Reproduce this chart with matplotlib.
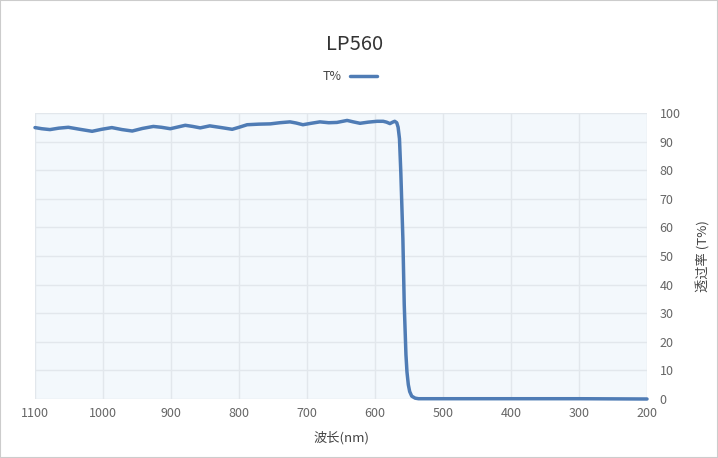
import matplotlib
matplotlib.use("Agg")
import matplotlib.pyplot as plt
from matplotlib.patches import Rectangle

plt.rcParams['font.family'] = ['Noto Sans CJK SC', 'DejaVu Sans']

title = "LP560"
series_name = "T%"
x_label = "波长(nm)"
y_label = "透过率 (T%)"

wavelength = [200, 300, 400, 500, 530, 536, 541, 546, 549, 551, 553, 554.5, 557, 559, 562, 564,
              566, 568, 571, 574, 578, 583, 588, 597, 610, 622, 632, 641, 656, 668,
              681, 694, 706, 716, 725, 740, 754, 771, 788, 800, 810, 826, 843, 857,
              868, 879, 890, 901, 914, 926, 942, 957, 972, 987, 1002, 1016, 1034,
              1051, 1065, 1078, 1090, 1100]
transmittance = [0.0, 0.1, 0.1, 0.1, 0.1, 0.1, 0.3, 1.0, 2.6, 5.0, 9.5, 15.5, 33.0, 56.0, 79.0, 91.0,
                 95.0, 96.6, 97.1, 96.8, 96.3, 96.8, 97.1, 97.1, 96.8, 96.4, 96.9, 97.4,
                 96.7, 96.6, 96.9, 96.4, 95.9, 96.5, 96.9, 96.6, 96.2, 96.1, 95.9, 95.0,
                 94.3, 94.9, 95.5, 94.8, 95.3, 95.7, 95.1, 94.5, 95.0, 95.3, 94.6, 93.7,
                 94.2, 94.9, 94.3, 93.6, 94.3, 95.0, 94.7, 94.2, 94.5, 94.9]

x_ticks = [1100, 1000, 900, 800, 700, 600, 500, 400, 300, 200]
y_ticks = [0, 10, 20, 30, 40, 50, 60, 70, 80, 90, 100]

fig = plt.figure(figsize=(7.18, 4.58), dpi=100)
ax = fig.add_axes([35/718, 1-399/458, (647-35)/718, (399-113)/458])
ax.set_facecolor("#f3f8fc")

ax.plot(wavelength, transmittance, color="#4f7cb5", lw=2.5, solid_joinstyle="round",
        solid_capstyle="round", label=series_name, zorder=3, clip_on=False)

ax.set_xlim(1100, 200)
ax.set_ylim(0, 100)
ax.set_xticks(x_ticks)
ax.set_yticks(y_ticks)
ax.grid(True, color="#e2e7ec", lw=1)
ax.set_axisbelow(True)
for s in ax.spines.values():
    s.set_visible(False)
ax.yaxis.tick_right()
ax.yaxis.set_label_position("right")
ax.tick_params(axis="both", length=0, labelcolor="#666666", labelsize=9)
ax.tick_params(axis="y", pad=9)
ax.tick_params(axis="x", pad=6)
for lab in ax.get_yticklabels():
    lab.set_horizontalalignment("left")

ax.set_xlabel(x_label, color="#444444", fontsize=9.5, labelpad=8)
ax.set_ylabel(y_label, color="#444444", fontsize=9.5, rotation=90, va="center")
ax.yaxis.set_label_coords((703-35)/612, 0.5)

fig.text(355/718, 1-45/458, title, ha="center", va="center", fontsize=14.5, color="#333333")

leg = fig.legend(loc="center", bbox_to_anchor=(350/718, 1-77/458), frameon=False,
                 markerfirst=False, fontsize=9, handlelength=2.2, handletextpad=0.6,
                 labelcolor="#444444")

fig.patches.append(Rectangle((0, 0), 1, 1, transform=fig.transFigure, fill=False,
                             edgecolor="#cccccc", lw=1.5))

fig.savefig("out.png", dpi=100)
